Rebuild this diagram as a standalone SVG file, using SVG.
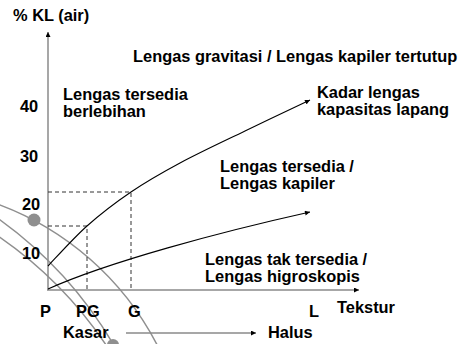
<svg xmlns="http://www.w3.org/2000/svg" width="462" height="344" viewBox="0 0 462 344">
<style>
text{font-family:"Liberation Sans",Arial,sans-serif;font-weight:bold;font-size:16.4px;fill:#000}
.ax{stroke:#8a8a8a;stroke-width:1.5;fill:none}
.cv{stroke:#000;stroke-width:1.1;fill:none}
.dash{stroke:#333;stroke-width:1;stroke-dasharray:4 3;fill:none}
.arc{stroke:#8f8f8f;stroke-width:1.5;fill:none}
.dot{fill:#8f8f8f}
</style>
<defs>
<marker id="ah" viewBox="0 0 10 10" refX="10" refY="5" markerWidth="6" markerHeight="5" markerUnits="userSpaceOnUse" orient="auto">
<path d="M0,0 L10,5 L0,10 z" fill="#000"/>
</marker>
</defs>
<rect width="462" height="344" fill="#fff"/>
<g id="decor">
<path class="arc" d="M -10 201.4 A 294 294 0 0 1 159.7 350"/>
<path class="arc" d="M -10 212.8 A 414 414 0 0 1 116.7 350"/>
<path class="arc" d="M -10 230.6 A 410 410 0 0 1 109.4 350"/>
<circle class="dot" cx="34" cy="220" r="6.5"/>
<circle class="dot" cx="113" cy="345" r="6"/>
</g>
<g id="connectors">
<line class="ax" x1="48" y1="290" x2="48" y2="32" marker-end="url(#ah)"/>
<line class="ax" x1="47" y1="290" x2="359" y2="290" marker-end="url(#ah)"/>
<path class="dash" d="M48 192 H131 V289"/>
<path class="dash" d="M48 226 H87 V289"/>
<path class="cv" d="M48 266 C54.5 259.3 73.2 238.3 87 226 C100.8 213.7 115.5 202.5 131 192 C146.5 181.5 161 173.2 180 163 C199 152.8 223.3 141.5 245 131 C266.7 120.5 299.2 105.2 310 100" marker-end="url(#ah)"/>
<path class="cv" d="M48 289 C108 262 220 232 310 212" marker-end="url(#ah)"/>
<line class="ax" x1="126" y1="333" x2="256" y2="333" marker-end="url(#ah)"/>
</g>
<g id="axis-labels">
<text x="13" y="21">% KL (air)</text>
<text x="20" y="112">40</text>
<text x="20" y="162">30</text>
<text x="22" y="210">20</text>
<text x="22" y="259">10</text>
<text x="40" y="317">P</text>
<text x="76" y="317">PG</text>
<text x="128" y="317">G</text>
<text x="309" y="317">L</text>
<text x="337" y="313">Tekstur</text>
</g>
<g id="n-gravitasi"><text x="133" y="62">Lengas gravitasi / Lengas kapiler tertutup</text></g>
<g id="n-berlebihan"><text x="63" y="100">Lengas tersedia</text><text x="63" y="117">berlebihan</text></g>
<g id="n-kapasitas"><text x="317" y="98">Kadar lengas</text><text x="317" y="115">kapasitas lapang</text></g>
<g id="n-kapiler"><text x="220" y="172">Lengas tersedia /</text><text x="220" y="189">Lengas kapiler</text></g>
<g id="n-higroskopis"><text x="205" y="265">Lengas tak tersedia /</text><text x="205" y="282">Lengas higroskopis</text></g>
<g id="n-kasar"><text x="63" y="338">Kasar</text></g>
<g id="n-halus"><text x="268" y="338">Halus</text></g>
</svg>
